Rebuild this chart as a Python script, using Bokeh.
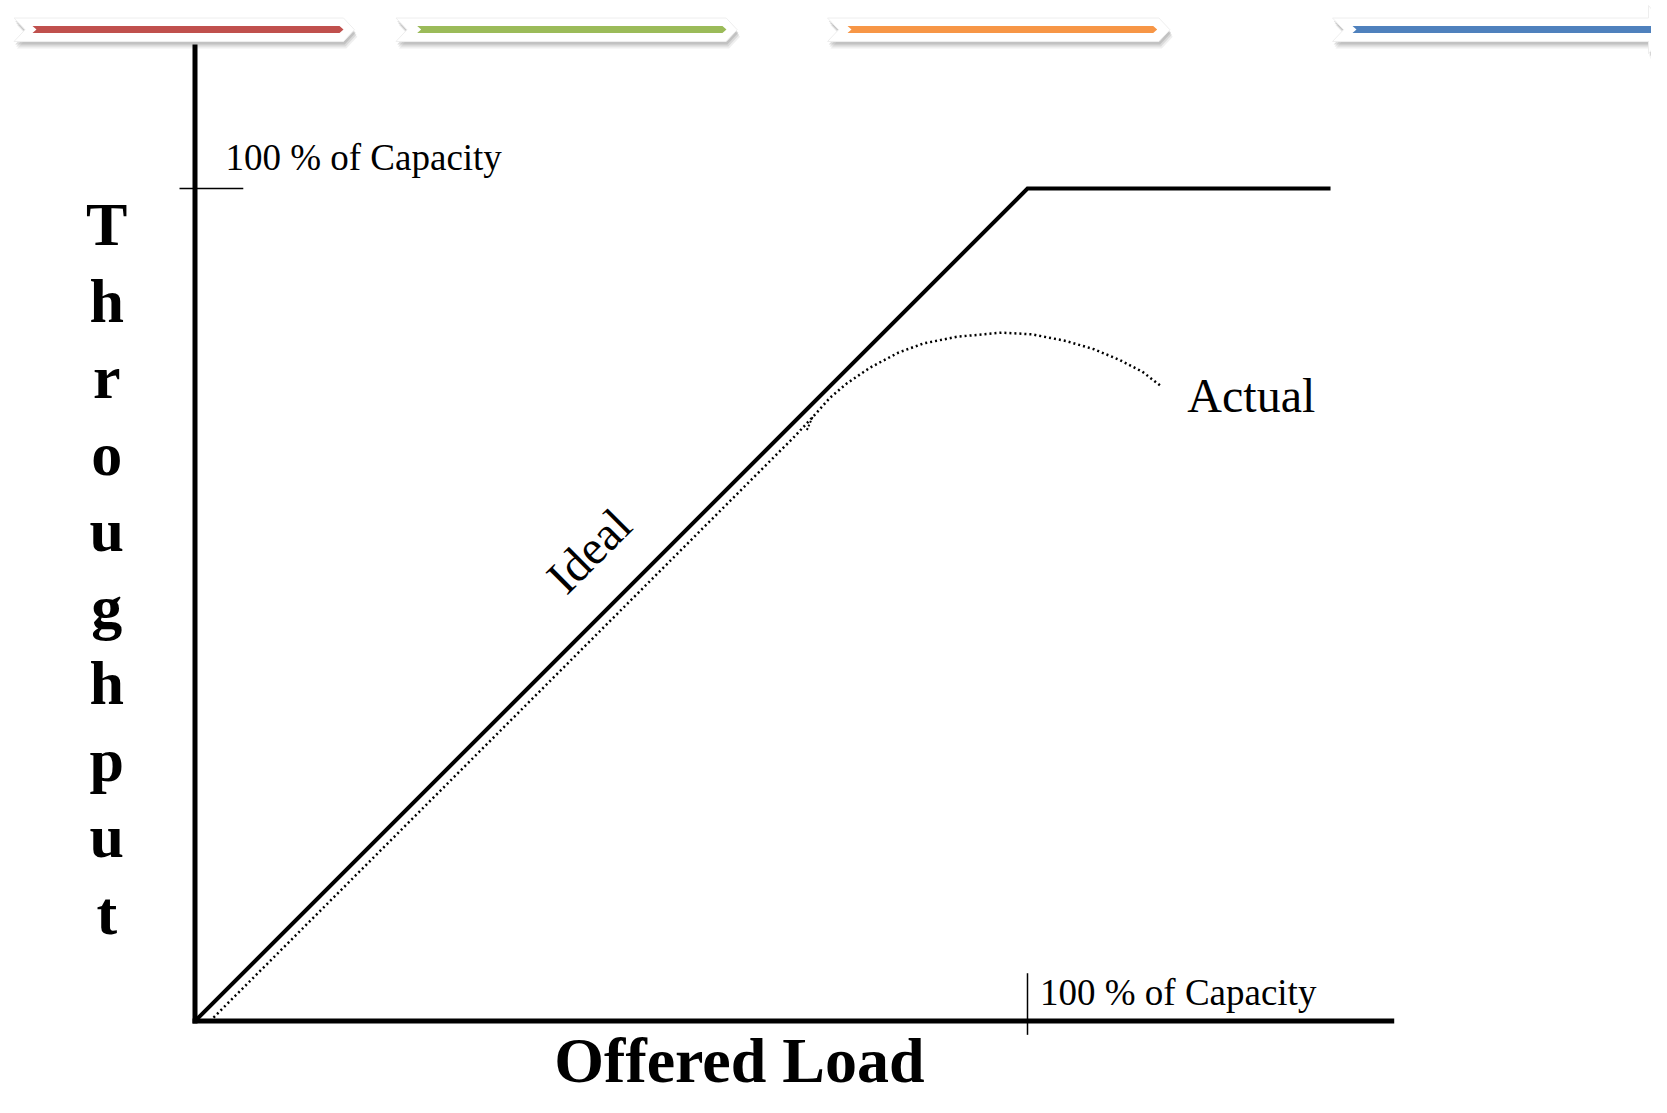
from bokeh.plotting import figure
from bokeh.models import Range1d
from bokeh.core.properties import value
from bokeh.embed import file_html
from bokeh.resources import INLINE
import math

# ---- data (units: % of capacity) ----
ideal_load = [0, 100, 136.4]
ideal_thr = [0, 100, 100]

actual_load = [1.8, 72.0, 74.6, 76.3, 78.3, 81.1, 84.5, 87.5, 91.5, 96.9, 100.5, 104.6, 108.0, 111.1, 113.8, 116.0]
actual_thr = [0.0, 70.2, 73.0, 74.9, 76.6, 78.5, 80.3, 81.4, 82.2, 82.7, 82.5, 81.7, 80.7, 79.4, 78.0, 76.3]
hook_load = [73.5, 74.2]
hook_thr = [71.0, 72.6]

x_axis_len = 144.05
y_axis_len = 117.3
capacity = 100
tick_label = "100 % of Capacity"
y_title = "Throughput"
x_title = "Offered Load"
ideal_label = "Ideal"
actual_label = "Actual"

# decorative banner strip
banner_colors = ["#C0504D", "#9BBB59", "#F79646", "#4F81BD"]
banner_starts = [-21.74, 24.14, 75.98, 136.64]
banner_ends = [19.16, 65.13, 117.11, 174.6]
bar_starts = [-19.52, 26.69, 78.38, 139.04]
bar_ends = [17.84, 63.84, 115.58, 176.3]

FONT = "Liberation Serif"
S = 8.325          # px per unit
X0, Y0 = 194.5, 1020.6
W, H = 1651, 1097

p = figure(width=W, height=H, output_backend="svg", toolbar_location=None,
           x_range=Range1d(-X0 / S, (W - X0) / S), y_range=Range1d(-(H - Y0) / S, Y0 / S),
           x_axis_location=None, y_axis_location=None, min_border=0)
p.grid.visible = False
p.outline_line_color = None
p.background_fill_color = "white"
p.border_fill_color = "white"


def mid_y(baseline_px, fs):
    # convert a desired alphabetic baseline (px from top) to a 'middle' anchor in data units
    return (Y0 - (baseline_px - 0.338 * fs)) / S


# banners
top, bot = 120.49, 117.67
mid = (top + bot) / 2
btop, bbot = 119.53, 118.69
bmid = (btop + bbot) / 2
d = 1.32
e = 0.48
for i, c in enumerate(banner_colors):
    x0, x1 = banner_starts[i], banner_ends[i]
    if i < 3:
        xs = [x0, x1 - d, x1, x1 - d, x0, x0 + d]
        ys = [top, top, mid, bot, bot, mid]
    else:
        hx = x1
        xs = [x0, hx, hx, hx + 2.3, hx, hx, x0, x0 + d]
        ys = [top, top, 122.0, mid, 116.2, bot, bot, mid]
    for off, al in [(0.85, 0.12), (0.6, 0.18), (0.35, 0.25)]:
        p.patch([x + off * 0.4 for x in xs], [y - off for y in ys],
                fill_color="#7a7a7a", fill_alpha=al, line_color=None)
    p.patch(xs, ys, fill_color="white", line_color="#eeeeee", line_width=1)
    b0, b1 = bar_starts[i], bar_ends[i]
    p.patch([b0, b1 - e, b1, b1 - e, b0, b0 + e],
            [btop, btop, bmid, bbot, bbot, bmid],
            fill_color=c, line_color=None)

# axes
p.line([0, 0], [-0.3, y_axis_len], line_color="black", line_width=5)
p.line([-0.3, x_axis_len], [0, 0], line_color="black", line_width=5)

# capacity ticks
p.line([-1.86, 5.8], [capacity, capacity], line_color="black", line_width=1.5)
p.line([capacity, capacity], [5.75, -1.65], line_color="black", line_width=1.5)

# ideal curve
p.line(ideal_load, ideal_thr, line_color="black", line_width=4, line_join="miter")

# actual curve
p.line(actual_load, actual_thr, line_color="black", line_width=2.5, line_dash="2 3",
       line_join="round")
p.line(hook_load, hook_thr, line_color="black", line_width=2, line_dash="2 2")

# labels
p.text(x=[3.66], y=[mid_y(170, 37)], text=[tick_label], text_font=value(FONT),
       text_font_size="37px", text_align="left", text_baseline="middle", text_color="black")
p.text(x=[101.5], y=[mid_y(1005, 37)], text=[tick_label], text_font=value(FONT),
       text_font_size="37px", text_align="left", text_baseline="middle", text_color="black")
p.text(x=[119.2], y=[mid_y(411, 48)], text=[actual_label], text_font=value(FONT),
       text_font_size="48px", text_align="left", text_baseline="middle", text_color="black")
p.text(x=[47.3], y=[56.5], text=[ideal_label], text_font=value(FONT), angle=math.pi / 4,
       text_font_size="48px", text_align="center", text_baseline="middle", text_color="black")

# vertical stacked y-title
letters = list(y_title)
ly = [mid_y(244.5 + 76.5 * i, 62) for i in range(len(letters))]
p.text(x=[-10.6] * len(letters), y=ly, text=letters, text_font=value(FONT),
       text_font_size="62px", text_font_style="bold", text_align="center",
       text_baseline="middle", text_color="black")

p.text(x=[65.4], y=[mid_y(1082, 64)], text=[x_title], text_font=value(FONT),
       text_font_size="64px", text_font_style="bold", text_align="center",
       text_baseline="middle", text_color="black")

open("out.html", "w").write(file_html(p, INLINE))
